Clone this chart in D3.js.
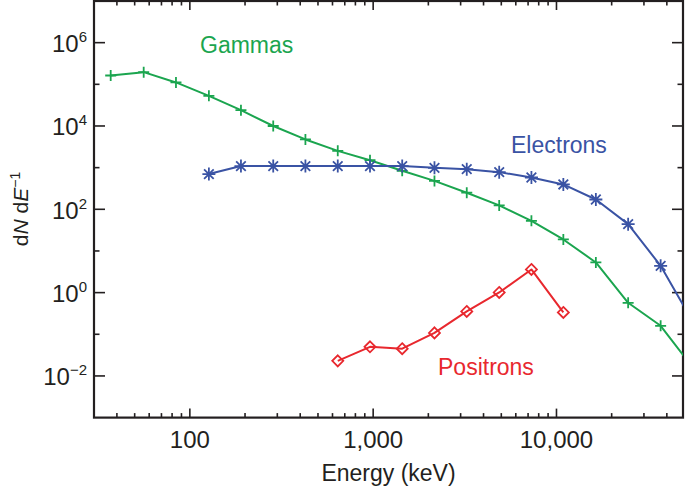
<!DOCTYPE html>
<html>
<head>
<meta charset="utf-8">
<script src="https://cdn.jsdelivr.net/npm/d3@7"></script>
<style>
  html, body { margin: 0; padding: 0; background: #fff; }
  svg { display: block; font-family: "Liberation Sans", Arial, Helvetica, sans-serif; }
</style>
</head>
<body>
<svg id="chart" width="685" height="486"></svg>
<script>
// ---- data ----
const gammaEnergy = [37, 56, 84, 127, 190, 285, 427, 641, 961, 1440, 2160, 3240, 4870, 7300, 10900, 16400, 24600, 37000, 55400];
const gammaValues = [1.63e5, 1.96e5, 1.11e5, 5.3e4, 2.4e4, 1.0e4, 4750, 2530, 1510, 840, 480, 250, 124, 53, 18.9, 5.3, 0.57, 0.16, 0.016];

const electronEnergy = [127, 190, 285, 427, 641, 961, 1440, 2160, 3240, 4870, 7300, 10900, 16400, 24600, 37000, 55400];
const electronValues = [700, 1090, 1090, 1090, 1090, 1090, 1090, 990, 920, 780, 580, 395, 172, 44, 4.4, 0.2];

const positronEnergy = [641, 961, 1440, 2160, 3240, 4870, 7300, 10900];
const positronValues = [0.023, 0.050, 0.045, 0.108, 0.354, 1.01, 3.6, 0.335];

const xMajorTicks = [100, 1000, 10000];
const xTickLabels = ["100", "1,000", "10,000"];
const yMajorExponents = [-2, 0, 2, 4, 6];
const seriesNames = ["Gammas", "Electrons", "Positrons"];

// ---- layout ----
const svg = d3.select("#chart");
const L = 94, R = 683, T = 1, B = 417.6;
const x = d3.scaleLog().domain([30, 49000]).range([L, R]);
const y = d3.scaleLog().domain([1e-3, 1e7]).range([B, T]);

const colors = { g: "#1ba54f", e: "#3a53a4", p: "#e8282e" };

svg.append("defs").append("clipPath").attr("id", "clip")
  .append("rect").attr("x", L).attr("y", T).attr("width", R - L).attr("height", B - T);

// ---- axes (ticks inward on all four sides) ----
const xMinor = [];
for (let d = 10; d <= 10000; d *= 10) for (let k = 2; k <= 9; k++) { const v = d * k; if (v > 30 && v < 49000) xMinor.push(v); }
const yMinor = [1e-1, 1e1, 1e3, 1e5];
const yMajor = yMajorExponents.map(e => Math.pow(10, e));

const axisG = svg.append("g").attr("stroke", "#231f20").attr("stroke-width", 1.6);
function xTicks(vals, len) {
  axisG.selectAll(null).data(vals).enter().append("line")
    .attr("x1", d => x(d)).attr("x2", d => x(d)).attr("y1", B).attr("y2", B - len);
  axisG.selectAll(null).data(vals).enter().append("line")
    .attr("x1", d => x(d)).attr("x2", d => x(d)).attr("y1", T).attr("y2", T + len);
}
function yTicks(vals, len) {
  axisG.selectAll(null).data(vals).enter().append("line")
    .attr("y1", d => y(d)).attr("y2", d => y(d)).attr("x1", L).attr("x2", L + len);
  axisG.selectAll(null).data(vals).enter().append("line")
    .attr("y1", d => y(d)).attr("y2", d => y(d)).attr("x1", R).attr("x2", R - len);
}
xTicks(xMajorTicks, 9);
xTicks(xMinor, 4.5);
yTicks(yMajor, 11);
yTicks(yMinor, 5.5);

svg.append("rect").attr("x", L).attr("y", T).attr("width", R - L).attr("height", B - T)
  .attr("fill", "none").attr("stroke", "#231f20").attr("stroke-width", 2.2);

// x tick labels
svg.append("g").selectAll("text").data(xMajorTicks).enter().append("text")
  .attr("x", d => x(d)).attr("y", 447.5).attr("text-anchor", "middle")
  .attr("font-size", 24).attr("fill", "#231f20")
  .text((d, i) => xTickLabels[i]);

// y tick labels
const yl = svg.append("g").selectAll("text").data(yMajorExponents).enter().append("text")
  .attr("x", 87).attr("y", d => y(Math.pow(10, d)) + 9.5).attr("text-anchor", "end")
  .attr("font-size", 24).attr("fill", "#231f20");
yl.append("tspan").text("10");
yl.append("tspan").attr("dy", -10).attr("font-size", 15).text(d => d < 0 ? "\u2212" + (-d) : String(d));

// axis titles
svg.append("text").attr("x", (L + R) / 2).attr("y", 481).attr("text-anchor", "middle")
  .attr("font-size", 23).attr("fill", "#231f20").text("Energy (keV)");

const yt = svg.append("text").attr("transform", "translate(28,209) rotate(-90)")
  .attr("text-anchor", "middle").attr("font-size", 21).attr("fill", "#231f20");
yt.append("tspan").text("d");
yt.append("tspan").attr("font-style", "italic").text("N");
yt.append("tspan").text(" d");
yt.append("tspan").attr("font-style", "italic").text("E");
yt.append("tspan").attr("dy", -8).attr("font-size", 14).text("\u22121");

// ---- series ----
const plot = svg.append("g").attr("clip-path", "url(#clip)");
const line = d3.line().x(d => x(d[0])).y(d => y(d[1]));

function drawSeries(energy, values, color, markerPath) {
  const pts = energy.map((e, i) => [e, values[i]]);
  plot.append("path").datum(pts).attr("d", line)
    .attr("fill", "none").attr("stroke", color).attr("stroke-width", 2).attr("stroke-linejoin", "round");
  plot.append("g").selectAll("path").data(pts).enter().append("path")
    .attr("transform", d => `translate(${x(d[0])},${y(d[1])})`)
    .attr("d", markerPath)
    .attr("fill", "none").attr("stroke", color).attr("stroke-width", 1.8);
}
const plus = "M-5.5,0H5.5M0,-5.5V5.5";
const s = 6.5, sd = 4.8;
const asterisk = `M0,${-s}V${s}M${-s},0H${s}M${-sd},${-sd}L${sd},${sd}M${-sd},${sd}L${sd},${-sd}`;
const diamond = "M0,-5.5L5.5,0L0,5.5L-5.5,0Z";

drawSeries(gammaEnergy, gammaValues, colors.g, plus);
drawSeries(electronEnergy, electronValues, colors.e, asterisk);
drawSeries(positronEnergy, positronValues, colors.p, diamond);

// ---- series labels ----
const labelData = [
  { name: seriesNames[0], x: 200, y: 53, c: colors.g },
  { name: seriesNames[1], x: 511, y: 153, c: colors.e },
  { name: seriesNames[2], x: 438, y: 375, c: colors.p }
];
svg.append("g").selectAll("text").data(labelData).enter().append("text")
  .attr("x", d => d.x).attr("y", d => d.y).attr("font-size", 23)
  .attr("fill", d => d.c).text(d => d.name);
</script>
</body>
</html>
